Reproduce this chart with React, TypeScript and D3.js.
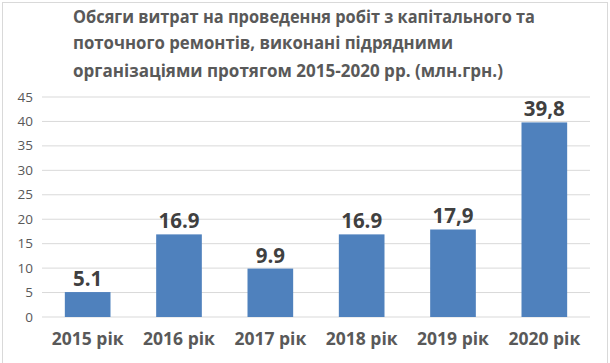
import React from "react";
import * as d3 from "d3";

const categories = ["2015 рік", "2016 рік", "2017 рік", "2018 рік", "2019 рік", "2020 рік"];
const values = [5.1, 16.9, 9.9, 16.9, 17.9, 39.8];
const valueLabels = ["5.1", "16.9", "9.9", "16.9", "17,9", "39,8"];
const yTicks = [0, 5, 10, 15, 20, 25, 30, 35, 40, 45];
const titleLines = [
  "Обсяги витрат на проведення робіт з капітального та",
  "поточного ремонтів, виконані підрядними",
  "організаціями протягом 2015-2020 рр. (млн.грн.)",
];
const titleWidths = [462, 380, 430];

const W = 610;
const H = 363;
const left = 42;
const right = 590;
const top = 97;
const bottom = 317;

export default function App() {
  const x = d3.scaleBand<string>().domain(categories).range([left, right]).paddingInner(0.5).paddingOuter(0.25);
  const y = d3.scaleLinear().domain([0, 45]).range([bottom, top]);
  const font = "'Open Sans', 'Noto Sans', sans-serif";
  const titleBaselines = [23, 49, 77];
  return (
    <svg width={W} height={H} style={{ position: "absolute", left: 0, top: 0, background: "#fff" }}>
      <rect x={2.5} y={2.5} width={605} height={H + 10} fill="#fff" stroke="#d9d9d9" strokeWidth={1} />
      {titleLines.map((t, i) => (
        <text
          key={i}
          x={73}
          y={titleBaselines[i]}
          fontFamily={font}
          fontWeight={700}
          fontSize={17}
          fill="#595959"
          textLength={titleWidths[i]}
          lengthAdjust="spacingAndGlyphs"
        >
          {t}
        </text>
      ))}
      {yTicks.map((t) => (
        <g key={t}>
          <line x1={left} x2={right} y1={y(t)} y2={y(t)} stroke="#d9d9d9" strokeWidth={1} />
          <text x={33} y={y(t) + 4.5} textAnchor="end" fontFamily={font} fontSize={13.5} fill="#595959">
            {t}
          </text>
        </g>
      ))}
      {categories.map((c, i) => (
        <g key={c}>
          <rect x={x(c)} y={y(values[i])} width={x.bandwidth()} height={y(0) - y(values[i])} fill="#4f81bd" />
          <text
            x={(x(c) as number) + x.bandwidth() / 2}
            y={y(values[i]) - 6}
            textAnchor="middle"
            fontFamily={font}
            fontWeight={700}
            fontSize={20.5}
            fill="#404040"
          >
            {valueLabels[i]}
          </text>
          <text
            x={(x(c) as number) + x.bandwidth() / 2}
            y={345}
            textAnchor="middle"
            fontFamily={font}
            fontWeight={700}
            fontSize={17.5}
            fill="#595959"
          >
            {c}
          </text>
        </g>
      ))}
    </svg>
  );
}
